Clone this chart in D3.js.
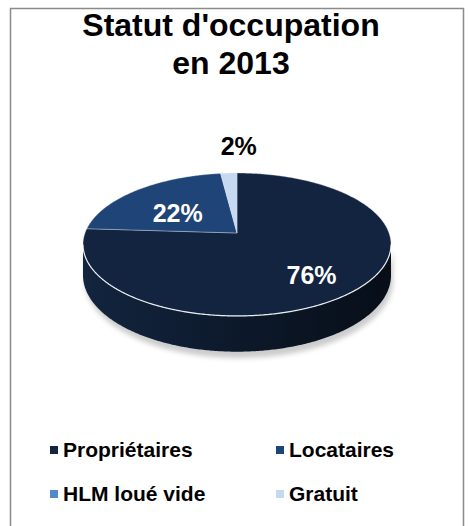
<!DOCTYPE html>
<html>
<head>
<meta charset="utf-8">
<script src="https://cdn.jsdelivr.net/npm/d3@7"></script>
<style>
  body { margin: 0; background: #fff; }
  text { font-family: "Liberation Sans", Arial, sans-serif; font-weight: bold; }
</style>
</head>
<body>
<div id="chart"></div>
<script>
// data
var categories = ["Propriétaires", "Locataires", "HLM loué vide", "Gratuit"];
var values = [76, 22, 0, 2];
var titleLines = ["Statut d'occupation", "en 2013"];

var topColors = ["#12243f", "#1f4477", "#4f88cf", "#c6d9f1"];
var sideColors = [["#12243e", "#070e18"], ["#16325a", "#0c1c33"], ["#3a6aa6", "#25497a"], ["#a9bfda", "#8aa3c2"]];

var W = 468, H = 526;
var svg = d3.select("#chart").append("svg").attr("width", W).attr("height", H);

svg.append("rect").attr("x", 10.5).attr("y", 8.5).attr("width", 453).attr("height", 600)
   .style("fill", "#fff").style("stroke", "#8a8a8a").style("stroke-width", 1.5);

// title
svg.selectAll("text.title").data(titleLines).enter().append("text").attr("class", "title")
   .attr("x", 231).attr("y", function(d, i) { return 36 + i*38; })
   .attr("text-anchor", "middle").style("font-size", "32px").style("fill", "#000")
   .text(function(d) { return d; });

// 3d projection of the pie
var cx = 237, cy = 233, R = 152, sinE = 0.458, cosE = 0.889, D = 5.53, depth = 30;
function proj(a, k, z) {
  var x = Math.sin(a) * k, d = -Math.cos(a) * k;
  var f = D / (D - d * cosE);
  return [cx + R * x * f, cy + (R * sinE * d + z * depth) * f];
}

// silhouette angles of the cylinder wall
var aRight = d3.range(0, Math.PI, 0.002).reduce(function(b, a) { return proj(a,1,0)[0] > proj(b,1,0)[0] ? a : b; }, 0);
var aLeft = d3.range(Math.PI, 2*Math.PI, 0.002).reduce(function(b, a) { return proj(a,1,0)[0] < proj(b,1,0)[0] ? a : b; }, Math.PI);

var pie = d3.pie().sort(null).value(function(d) { return d; });
var arcs = pie(values);
var line = d3.line().curve(d3.curveLinearClosed);
var openLine = d3.line();

function arcPts(a0, a1, z) {
  var n = Math.max(2, Math.ceil((a1 - a0) / 0.01));
  return d3.range(n + 1).map(function(i) { return proj(a0 + (a1 - a0) * i / n, 1, z); });
}

var defs = svg.append("defs");
sideColors.forEach(function(c, i) {
  var g = defs.append("linearGradient").attr("id", "side" + i).attr("gradientUnits", "userSpaceOnUse")
    .attr("x1", cx - R).attr("x2", cx + R).attr("y1", 0).attr("y2", 0);
  g.append("stop").attr("offset", "0%").attr("stop-color", c[0]);
  g.append("stop").attr("offset", "100%").attr("stop-color", c[1]);
});
defs.append("filter").attr("id", "shadow").attr("x", "-10%").attr("y", "-10%").attr("width", "120%").attr("height", "130%")
  .append("feGaussianBlur").attr("stdDeviation", 2.5);

// shadow under the wall
svg.append("path")
   .attr("d", line(arcPts(aRight, aLeft, 0).concat(arcPts(aRight, aLeft, 1.12).reverse())))
   .attr("transform", "translate(2,2)")
   .style("fill", "#999").style("opacity", 0.5).attr("filter", "url(#shadow)");

// outer walls
var gPie = svg.append("g").attr("class", "pie");
arcs.forEach(function(d, i) {
  var a0 = Math.max(d.startAngle, aRight), a1 = Math.min(d.endAngle, aLeft);
  if (a1 <= a0) return;
  gPie.append("path")
     .attr("d", line(arcPts(a0, a1, 0).concat(arcPts(a0, a1, 1).reverse())))
     .style("fill", "url(#side" + i + ")");
});

// top faces
arcs.forEach(function(d, i) {
  if (d.endAngle - d.startAngle <= 0) return;
  gPie.append("path")
     .attr("d", line([proj(0, 0, 0)].concat(arcPts(d.startAngle, d.endAngle, 0))))
     .style("fill", topColors[i]).style("stroke", "#dfe6f0").style("stroke-width", 0.6).style("stroke-opacity", 0.6);
});

// highlight along the front rim
gPie.append("path").attr("d", openLine(arcPts(aRight, aLeft, 0)))
   .style("fill", "none").style("stroke", "#fff").style("stroke-width", 1.2).style("opacity", 0.85);

// labels
var total = d3.sum(values);
arcs.forEach(function(d, i) {
  if (d.value === 0) return;
  var mid = (d.startAngle + d.endAngle) / 2, p, col;
  var txt = Math.round(d.value / total * 100) + "%";
  if (d.value / total < 0.05) {
    p = proj(mid, 1, 0); p = [p[0] + 10, p[1] - 27]; col = "#000";
  } else {
    p = proj(mid, 0.62, 0); p = [p[0] + 5, p[1] + 8]; col = "#fff";
  }
  svg.append("text").attr("x", p[0]).attr("y", p[1]).attr("dy", "0.36em")
     .attr("text-anchor", "middle").style("font-size", "25px").style("fill", col).text(txt);
});

// legend
var leg = svg.selectAll("g.legend").data(categories).enter().append("g").attr("class", "legend")
   .attr("transform", function(d, i) { return "translate(" + (50 + (i % 2) * 226) + "," + (446 + Math.floor(i / 2) * 44) + ")"; });
leg.append("rect").attr("width", 8).attr("height", 8).style("fill", function(d, i) { return topColors[i]; });
leg.append("text").attr("x", 13).attr("y", 10.5).style("font-size", "21px").style("fill", "#000")
   .text(function(d) { return d; });
</script>
</body>
</html>
